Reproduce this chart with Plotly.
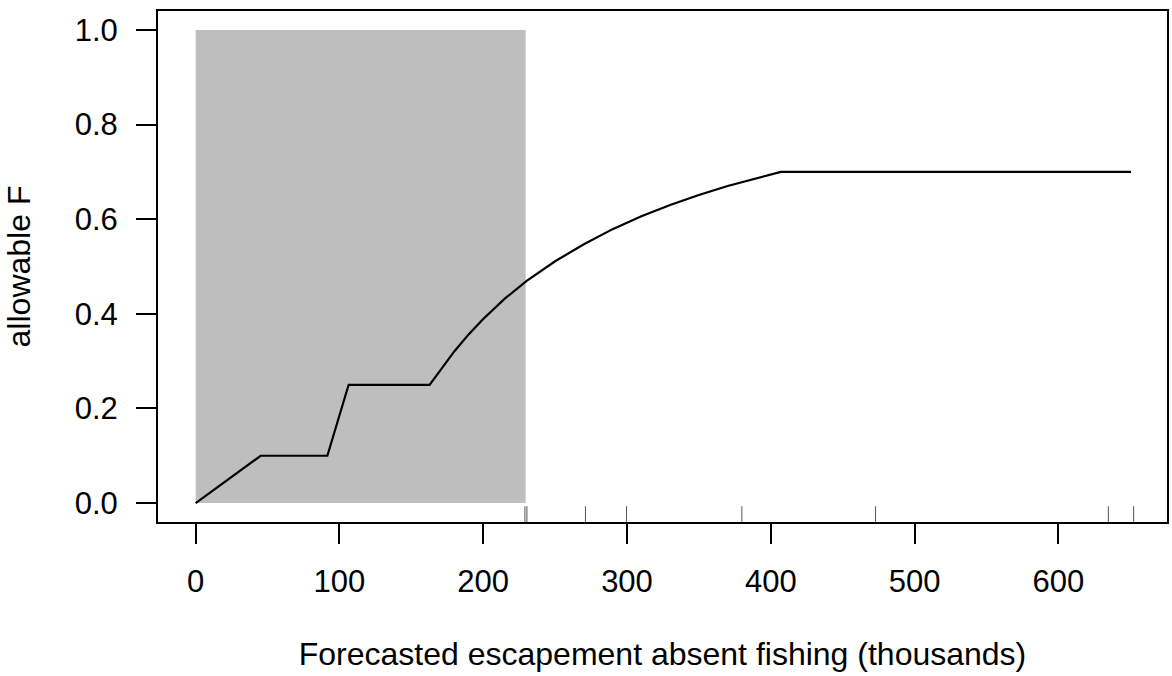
import plotly.graph_objects as go

# Harvest control rule: allowable F against forecasted escapement absent fishing
escapement = [0, 45.2, 91.6, 106.4, 162.7, 170, 180, 190, 200, 215, 230, 250,
              270, 290, 310, 330, 350, 370, 390, 407, 650.6]
allowable_f = [0.0, 0.10, 0.10, 0.25, 0.25, 0.281, 0.321, 0.357, 0.389, 0.432,
               0.469, 0.511, 0.547, 0.579, 0.606, 0.630, 0.651, 0.670, 0.687,
               0.700, 0.700]

# Shaded band of escapement values
shade_x = [0, 229.5]
shade_y = [0, 1]

# Observed forecasts shown as a rug along the x axis
rug_values = [229.0, 230.4, 271.1, 299.7, 379.9, 472.9, 634.8, 652.4]

x_ticks = [0, 100, 200, 300, 400, 500, 600]
y_ticks = [0.0, 0.2, 0.4, 0.6, 0.8, 1.0]

x_range = [-26.2, 675.6]
y_range = [-0.04, 1.04]

FONT = "Liberation Sans, Arial, Helvetica, sans-serif"
TICK_SIZE = 31
TITLE_SIZE = 32

fig = go.Figure()

fig.add_shape(type="rect", xref="x", yref="y",
              x0=shade_x[0], x1=shade_x[1], y0=shade_y[0], y1=shade_y[1],
              fillcolor="#bebebe", line=dict(width=0), layer="below")

fig.add_trace(go.Scatter(x=escapement, y=allowable_f, mode="lines",
                         line=dict(color="black", width=2.2),
                         hoverinfo="x+y", showlegend=False))

# rug ticks: short vertical strokes rising from the bottom of the plot box
rug_len = 0.031 * (y_range[1] - y_range[0])
rx, ry = [], []
for v in rug_values:
    rx += [v, v, None]
    ry += [y_range[0], y_range[0] + rug_len, None]
fig.add_trace(go.Scatter(x=rx, y=ry, mode="lines",
                         line=dict(color="#555555", width=1),
                         hoverinfo="skip", showlegend=False))

axis_common = dict(showgrid=False, zeroline=False, showline=True, mirror=True,
                   linecolor="black", linewidth=2, ticks="outside", ticklen=20,
                   tickwidth=2, tickcolor="black",
                   tickfont=dict(family=FONT, size=TICK_SIZE, color="black"))

fig.update_xaxes(range=x_range, tickvals=x_ticks, ticklabelstandoff=11,
                 title=dict(text="Forecasted escapement absent fishing (thousands)",
                            font=dict(family=FONT, size=TITLE_SIZE, color="black"),
                            standoff=44),
                 **axis_common)
fig.update_yaxes(range=y_range, tickvals=y_ticks, tickformat=".1f",
                 ticklabelstandoff=12,
                 title=dict(text="allowable F",
                            font=dict(family=FONT, size=TITLE_SIZE, color="black"),
                            standoff=34),
                 **axis_common)

fig.update_layout(width=1172, height=676,
                  margin=dict(l=158, r=5, t=11, b=154, autoexpand=False),
                  plot_bgcolor="white", paper_bgcolor="white",
                  font=dict(family=FONT, color="black"))

fig.write_html("out.html")
